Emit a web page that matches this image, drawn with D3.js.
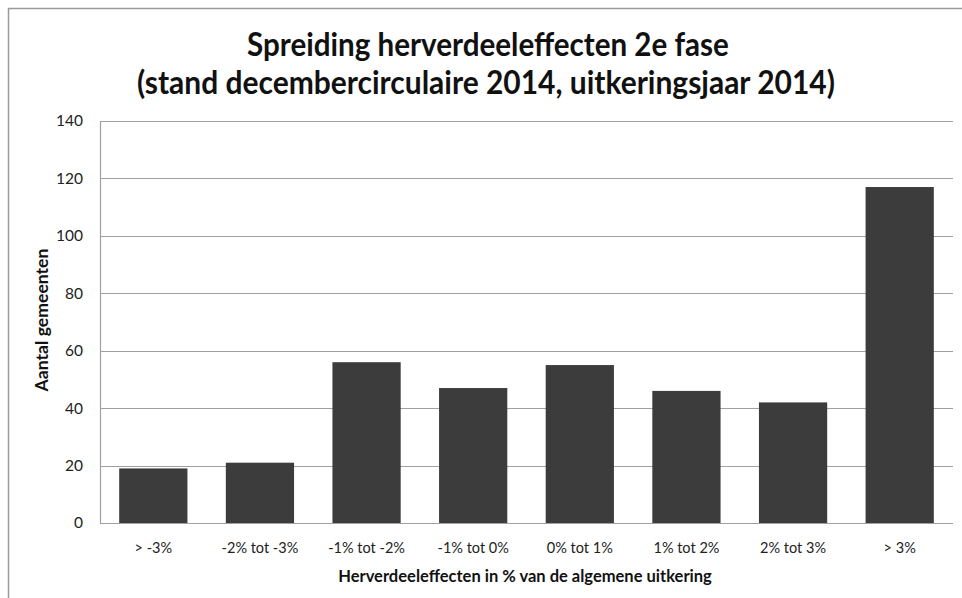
<!DOCTYPE html>
<html>
<head>
<meta charset="utf-8">
<script src="https://cdn.jsdelivr.net/npm/d3@7"></script>
<style>
  html, body { margin: 0; padding: 0; background: #fff; }
  svg { display: block; }
</style>
</head>
<body>
<svg id="chart" width="962" height="598"></svg>
<script>
const categories = ["> -3%", "-2% tot -3%", "-1% tot -2%", "-1% tot 0%", "0% tot 1%", "1% tot 2%", "2% tot 3%", "> 3%"];
const values = [19, 21, 56, 47, 55, 46, 42, 117];
const yTicks = [0, 20, 40, 60, 80, 100, 120, 140];
const titleLines = ["Spreiding herverdeeleffecten 2e fase", "(stand decembercirculaire 2014, uitkeringsjaar 2014)"];
const yTitle = "Aantal gemeenten";
const xTitle = "Herverdeeleffecten in % van de algemene uitkering";

const svg = d3.select("#chart");
const W = 962, H = 598;
const m = { left: 100, right: 9, top: 121, bottom: 75 };
const font = "Lato, 'Open Sans', sans-serif";

svg.append("rect").attr("width", W).attr("height", H).attr("fill", "#fff");

// outer frame (top and left visible)
svg.append("path")
  .attr("d", `M8.5,${H} L8.5,8.5 L${W},8.5`)
  .attr("fill", "none").attr("stroke", "#9a9a9a").attr("stroke-width", 1.5);

const x = d3.scaleBand().domain(categories).range([m.left, W - m.right]).paddingInner(0.36).paddingOuter(0.18);
const y = d3.scaleLinear().domain([0, 140]).range([H - m.bottom, m.top]);

// gridlines
svg.append("g").selectAll("line").data(yTicks).join("line")
  .attr("x1", m.left).attr("x2", W - m.right)
  .attr("y1", d => Math.round(y(d)) + 0.5).attr("y2", d => Math.round(y(d)) + 0.5)
  .attr("stroke", "#a0a0a0").attr("stroke-width", 1.2);

// y axis line
svg.append("line")
  .attr("x1", m.left + 0.5).attr("x2", m.left + 0.5)
  .attr("y1", y(140)).attr("y2", y(0))
  .attr("stroke", "#a0a0a0").attr("stroke-width", 1.2);

// y axis labels
const yAxis = d3.axisLeft(y).tickValues(yTicks).tickSize(0).tickPadding(17);
const gy = svg.append("g").attr("transform", `translate(${m.left},0)`).call(yAxis);
gy.select(".domain").remove();
gy.selectAll("text").attr("font-family", font).attr("font-size", 15.5).attr("fill", "#222");

// bars
svg.append("g").selectAll("rect").data(values).join("rect")
  .attr("x", (d, i) => x(categories[i]))
  .attr("width", x.bandwidth())
  .attr("y", d => y(d))
  .attr("height", d => y(0) - y(d))
  .attr("fill", "#3c3c3c");

// x axis labels
const xAxis = d3.axisBottom(x).tickSize(0).tickPadding(20);
const gx = svg.append("g").attr("transform", `translate(0,${y(0)})`).call(xAxis);
gx.select(".domain").remove();
gx.selectAll("text").attr("font-family", font).attr("font-size", 14.5).attr("fill", "#222");

// horizontally squeeze text (condensed look) to a target width, keeping its height
function squeeze(sel, cx, cy, targetWidth) {
  const w = sel.node().getComputedTextLength();
  const sx = Math.min(1, targetWidth / w);
  sel.attr("x", 0).attr("y", 0)
    .attr("transform", `translate(${cx},${cy}) scale(${sx},1)`);
}
function fitText(sel, targetWidth) {
  const w = sel.node().getComputedTextLength();
  const fs = parseFloat(sel.attr("font-size"));
  sel.attr("font-size", fs * targetWidth / w);
}

// titles
const t1 = svg.append("text").attr("text-anchor", "middle")
  .attr("font-family", font).attr("font-weight", "bold").attr("font-size", 33).attr("fill", "#111")
  .text(titleLines[0]);
squeeze(t1, 488, 56, 482);
const t2 = svg.append("text").attr("text-anchor", "middle")
  .attr("font-family", font).attr("font-weight", "bold").attr("font-size", 33).attr("fill", "#111")
  .text(titleLines[1]);
squeeze(t2, 486, 94, 698);

// y title
const yt = svg.append("text").attr("transform", "translate(48,320) rotate(-90)")
  .attr("text-anchor", "middle").attr("font-family", font).attr("font-weight", "bold")
  .attr("font-size", 14).attr("fill", "#111").text(yTitle);
fitText(yt, 143);

// x title
const xt = svg.append("text").attr("x", 525).attr("y", 582).attr("text-anchor", "middle")
  .attr("font-family", font).attr("font-weight", "bold").attr("font-size", 14).attr("fill", "#111")
  .text(xTitle);
fitText(xt, 374);
</script>
</body>
</html>
